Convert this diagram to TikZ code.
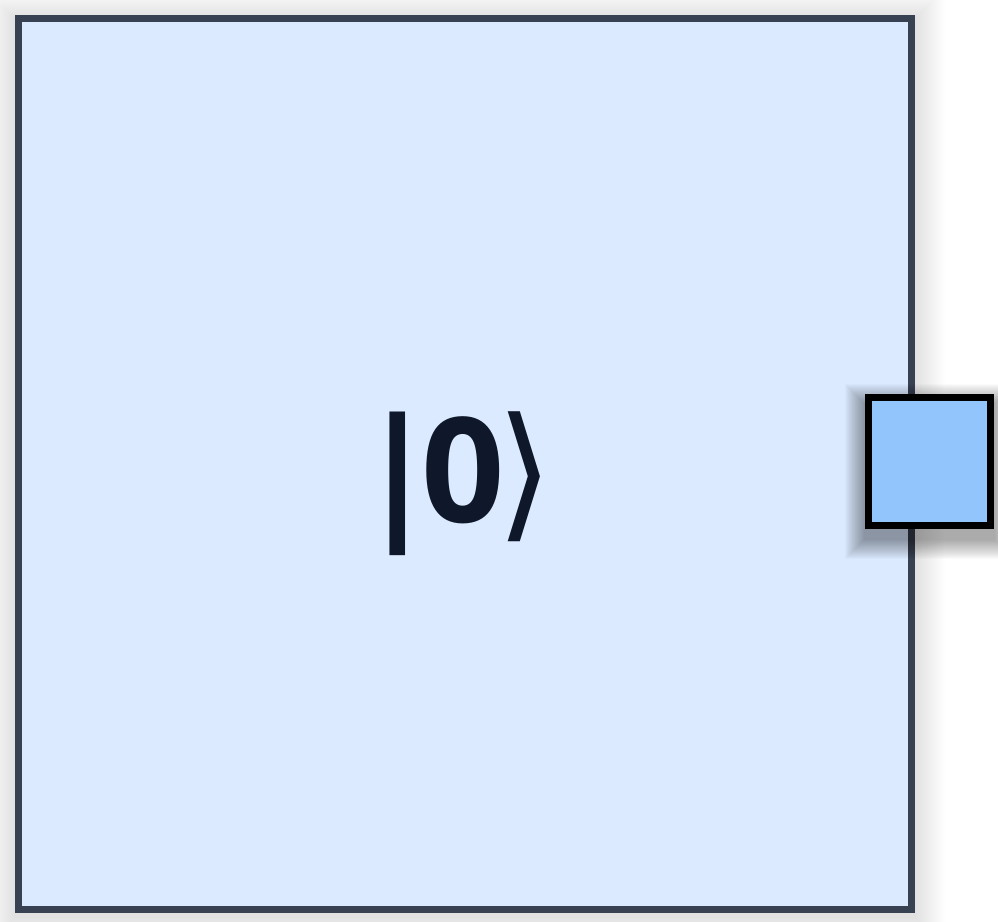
\documentclass[tikz,border=0pt]{standalone}
\usepackage{fontspec}
\setmainfont{Open Sans}
\newfontfamily\symfont{DejaVu Sans}
\usetikzlibrary{positioning}
\definecolor{stateFill}{HTML}{DBEAFE}
\definecolor{stateLine}{HTML}{374151}
\definecolor{portFill}{HTML}{93C5FD}
\definecolor{ketText}{HTML}{0F172A}
\pgfdeclarelayer{shadowbig}
\pgfdeclarelayer{boxbig}
\pgfdeclarelayer{shadowport}
\pgfsetlayers{shadowbig,boxbig,shadowport,main}

\begin{document}
\begin{tikzpicture}[x=1pt, y=-1pt,
  state/.style = {draw=stateLine, fill=stateFill, line width=7pt, minimum width=893pt, minimum height=891pt, inner sep=0pt},
  port/.style = {draw=black, fill=portFill, line width=7pt, minimum width=122pt, minimum height=128pt, inner sep=0pt},
  haze/.style = {fill=black, opacity=#1}]
\useasboundingbox (0,0) rectangle (998,921);
\begin{pgfonlayer}{boxbig}
\node[state] (ket) at (465,464) {};
\end{pgfonlayer}
\node[port] (out) at (929,461) {};
\node[text=ketText, font=\fontsize{146}{150}\selectfont\bfseries, inner sep=0pt, anchor=base west] (label) at (357,522) {|\kern-16pt 0\kern-8pt{\symfont\mdseries ⟩}};
% soft shadows
\begin{pgfonlayer}{shadowbig}
\foreach \r in {1,...,30}
  \fill[haze=0.0028] ([shift={(-\r,-\r+4)}]ket.north west) rectangle ([shift={(\r,\r+4)}]ket.south east);
\end{pgfonlayer}
\begin{pgfonlayer}{shadowport}
\foreach \r in {1,...,20}
  \fill[haze=0.02] ([shift={(-\r,-\r+10)}]out.north west) rectangle ([shift={(\r,\r+10)}]out.south east);
\end{pgfonlayer}
\end{tikzpicture}
\end{document}
